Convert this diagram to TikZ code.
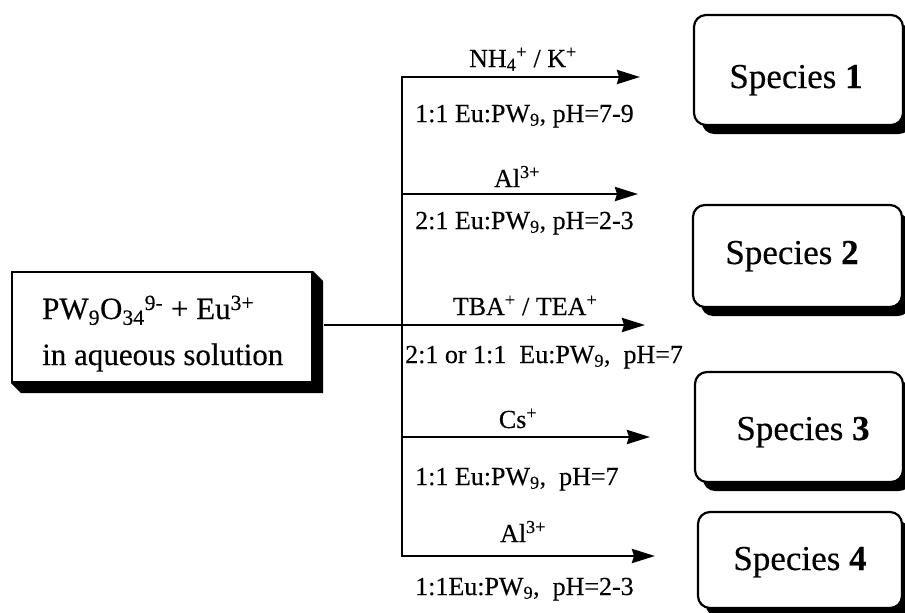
\documentclass[tikz,border=0pt]{standalone}
\usepackage{fontspec}
\setmainfont{Liberation Serif}[FakeBold=0.3]
\usetikzlibrary{arrows.meta,shadows}

\tikzset{
  lbl/.style={inner sep=0pt, font=\fontsize{26}{30}\selectfont},
  srcbox/.style={draw, line width=2.2pt, rectangle, fill=white, inner sep=0pt},
  srctext/.style={inner sep=0pt, font=\fontsize{31}{36}\selectfont},
  specbox/.style={draw, line width=2.2pt, rounded corners=12pt, fill=white,
    drop shadow={shadow xshift=8pt, shadow yshift=-9pt, fill=black, opacity=1}},
  spectext/.style={inner sep=0pt, font=\fontsize{35}{40}\selectfont},
  wire/.style={line width=2.8pt},
  arr/.style={line width=2.8pt, -{Stealth[length=23pt, width=14pt, inset=2pt]}},
}

\begin{document}
\begin{tikzpicture}[x=1pt, y=-1pt]
\useasboundingbox (0,0) rectangle (905,613);

% starting mixture, with its extruded shadow
\node[srcbox, minimum width=300pt, minimum height=110pt] (src) at (162,327) {};
\fill (src.south west) -- ++(10,10) -- ([shift={(10pt,-10pt)}]src.south east)
  -- ([shift={(10pt,-10pt)}]src.north east) -- (src.north east) -- (src.south east) -- cycle;
\node[srctext, anchor=base west] (src1) at (42,319)
  {PW\textsubscript{9}O\textsubscript{34}\textsuperscript{9-} + Eu\textsuperscript{3+}};
\node[srctext, anchor=base west] (src2) at (42,365) {in aqueous solution};

% product boxes
\node[specbox, minimum width=209pt, minimum height=110pt] (s1) at (798.5,70) {};
\node[specbox, minimum width=209pt, minimum height=102pt] (s2) at (797.5,256) {};
\node[specbox, minimum width=208pt, minimum height=110pt] (s3) at (799,427) {};
\node[specbox, minimum width=204pt, minimum height=96pt] (s4) at (800,560) {};

\node[spectext, anchor=base] (s1t) at (796,88) {Species \textbf{1}};
\node[spectext, anchor=base] (s2t) at (792,264) {Species \textbf{2}};
\node[spectext, anchor=base] (s3t) at (803,440) {Species \textbf{3}};
\node[spectext, anchor=base] (s4t) at (800,570) {Species \textbf{4}};

% branching point and arrow tips
\coordinate (j) at (402,325);
\coordinate (top) at (402,77);
\coordinate (bot) at (402,556);
\coordinate (b2) at (402,194);
\coordinate (b4) at (402,437);
\coordinate (t1) at (640,77);
\coordinate (t2) at (638,194);
\coordinate (t3) at (645,325);
\coordinate (t4) at (650,437);
\coordinate (t5) at (655,556);

\draw[wire] ([xshift=11pt]src.east |- j) -- (j);
\draw[wire, line cap=rect] (top) -- (bot);
\draw[arr] (top) -- (t1);
\draw[arr] (b2) -- (t2);
\draw[arr] (j) -- (t3);
\draw[arr] (b4) -- (t4);
\draw[arr] (bot) -- (t5);

% reaction conditions
\node[lbl, anchor=base] (c1a) at (523,67) {NH\textsubscript{4}\textsuperscript{+} / K\textsuperscript{+}};
\node[lbl, anchor=base west] (c1b) at (415,122) {1:1 Eu:PW\textsubscript{9}, pH=7-9};
\node[lbl, anchor=base] (c2a) at (517,187) {Al\textsuperscript{3+}};
\node[lbl, anchor=base west] (c2b) at (415,229) {2:1 Eu:PW\textsubscript{9}, pH=2-3};
\node[lbl, anchor=base] (c3a) at (525,315) {TBA\textsuperscript{+} / TEA\textsuperscript{+}};
\node[lbl, anchor=base west] (c3b) at (405,363) {2:1 or 1:1\ \ Eu:PW\textsubscript{9},\ \ pH=7};
\node[lbl, anchor=base] (c4a) at (518,428) {Cs\textsuperscript{+}};
\node[lbl, anchor=base west] (c4b) at (415,485) {1:1 Eu:PW\textsubscript{9},\ \ pH=7};
\node[lbl, anchor=base] (c5a) at (523,542) {Al\textsuperscript{3+}};
\node[lbl, anchor=base west] (c5b) at (415,595) {1:1Eu:PW\textsubscript{9},\ \ pH=2-3};
\end{tikzpicture}
\end{document}
